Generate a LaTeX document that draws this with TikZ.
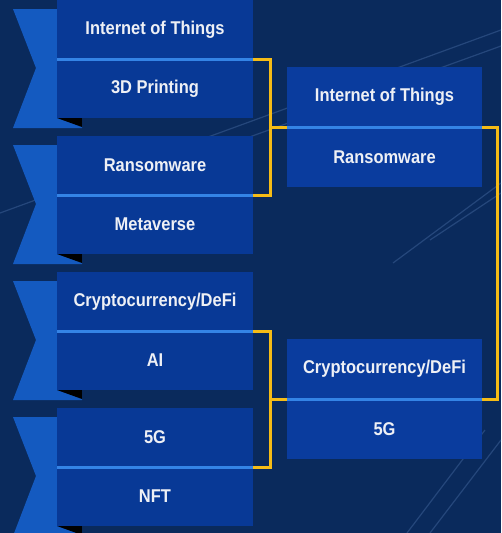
\documentclass[tikz,border=0pt]{standalone}
\usepackage{fontspec}
\setmainfont{Liberation Sans}[FakeStretch=0.89]
\usetikzlibrary{calc}
\definecolor{bg}{RGB}{10,42,92}
\definecolor{boxc}{RGB}{8,57,150}
\definecolor{boxr}{RGB}{10,60,158}
\definecolor{tailc}{RGB}{20,90,192}
\definecolor{divc}{RGB}{52,132,230}
\definecolor{gold}{RGB}{246,188,22}
\definecolor{bgline}{RGB}{60,95,150}
\definecolor{txt}{RGB}{238,240,245}
\begin{document}
\begin{tikzpicture}[x=1pt,y=-1pt,
  lbox/.style={fill=boxc, minimum width=196pt, minimum height=59pt, inner sep=0pt, outer sep=0pt,
    anchor=north west, text=txt, font=\fontsize{18.5}{20}\selectfont\bfseries},
  rbox/.style={lbox, fill=boxr, minimum width=195pt, minimum height=60pt},
  divider/.style={draw=divc, line width=3pt},
  bracket/.style={draw=gold, line width=3pt},
  tailshape/.style={fill=tailc},
  foldshape/.style={fill=black},
  bgl/.style={draw=bgline, line width=1.2pt, opacity=0.55}]
\useasboundingbox (0,0) rectangle (501,533);
\clip (0,0) rectangle (501,533);
\fill[bg] (0,0) rectangle (501,533);
% faint background lines
\draw[bgl] (0,213) -- (501,30);
\draw[bgl] (150,173) -- (501,46);
\draw[bgl] (393,263) -- (501,183);
\draw[bgl] (430,240) -- (501,193);
\draw[bgl] (407,533) -- (485,430);
\draw[bgl] (430,533) -- (501,440);
% ribbon tails
\foreach \T in {0,136,272,408}{
  \fill[tailshape] (13,{\T+9}) -- (82,{\T+9}) -- (82,{\T+128}) -- (13,{\T+128}) -- (36,{\T+68}) -- cycle;
  \fill[foldshape] (57,{\T+118}) -- (82,{\T+118}) -- (82,{\T+127}) -- cycle;
}
% left boxes
\node[lbox] (l1a) at (57,0) {Internet of Things};
\node[lbox] (l1b) at (57,59) {3D Printing};
\node[lbox] (l2a) at (57,136) {Ransomware};
\node[lbox] (l2b) at (57,195) {Metaverse};
\node[lbox] (l3a) at (57,272) {Cryptocurrency/DeFi};
\node[lbox] (l3b) at (57,331) {AI};
\node[lbox] (l4a) at (57,408) {5G};
\node[lbox] (l4b) at (57,467) {NFT};
% right boxes
\node[rbox] (r1a) at (287,67) {Internet of Things};
\node[rbox] (r1b) at (287,127) {Ransomware};
\node[rbox] (r2a) at (287,339) {Cryptocurrency/DeFi};
\node[rbox] (r2b) at (287,399) {5G};
% dividers
\foreach \n in {l1a,l2a,l3a,l4a,r1a,r2a}{
  \draw[divider] (\n.south west) -- (\n.south east);
}
% brackets
\draw[bracket] (l1a.south east) -- ++(17,0) coordinate (k1) |- (l2a.south east);
\draw[bracket] (k1 |- r1a.south west) -- (r1a.south west);
\draw[bracket] (l3a.south east) -- ++(17,0) coordinate (k2) |- (l4a.south east);
\draw[bracket] (k2 |- r2a.south west) -- (r2a.south west);
\draw[bracket] (r1a.south east) -- ++(15,0) |- (r2a.south east);
\end{tikzpicture}
\end{document}
